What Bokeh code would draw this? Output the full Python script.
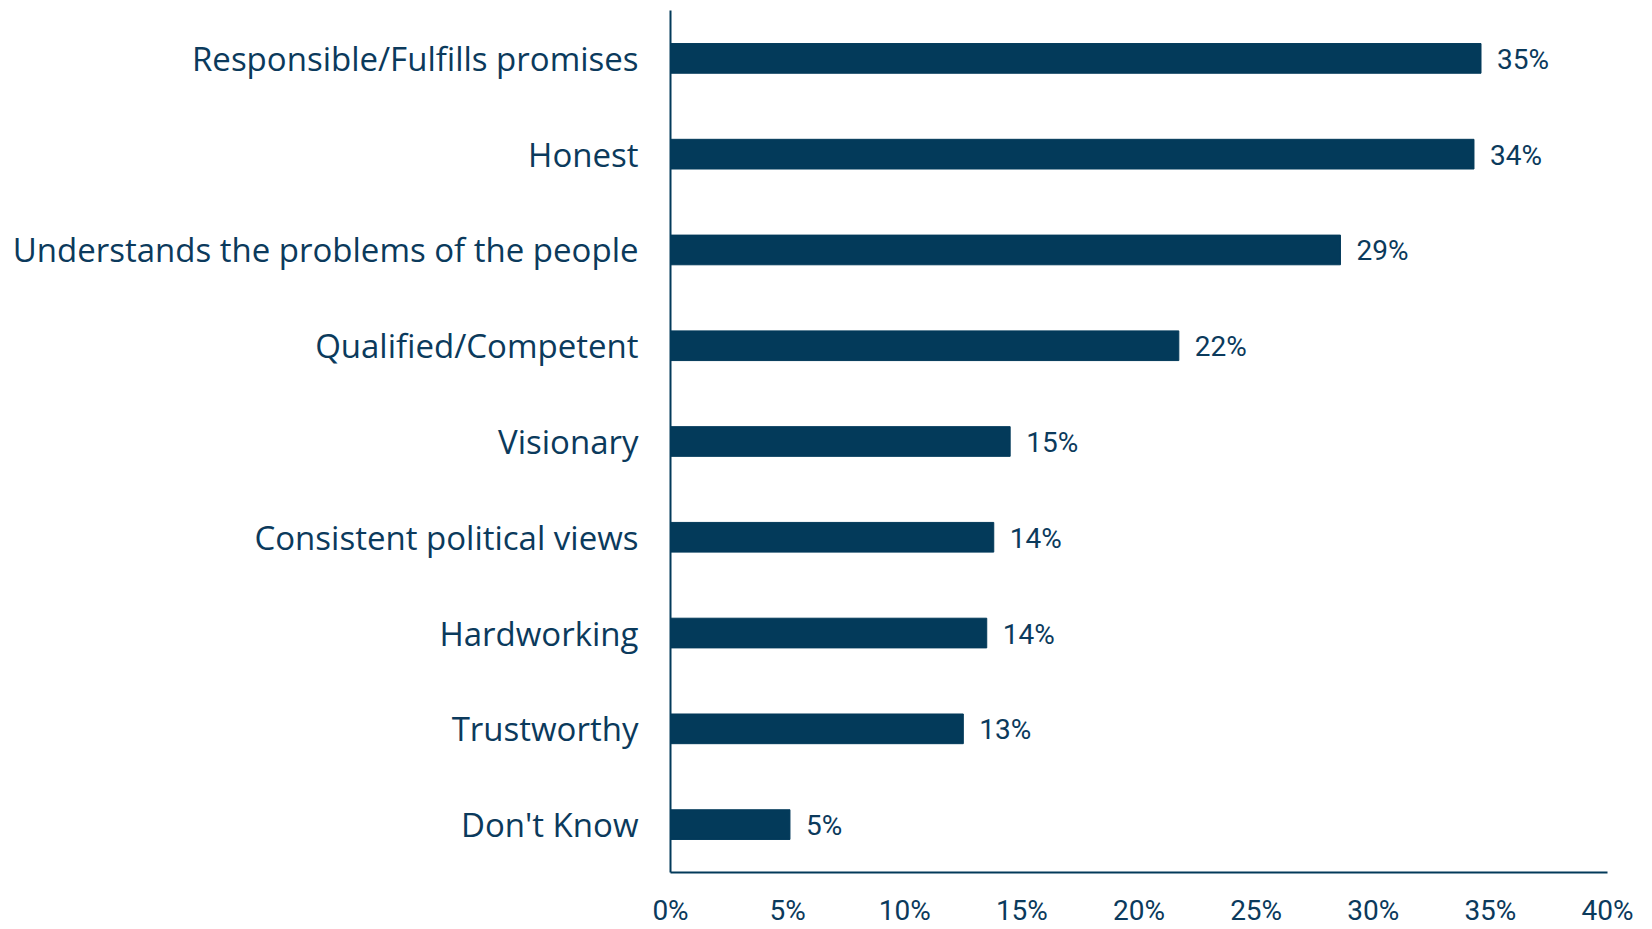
from bokeh.plotting import figure
from bokeh.models import ColumnDataSource, Range1d, FactorRange, FixedTicker, LabelSet
from bokeh.core.properties import value
from bokeh.embed import file_html
from bokeh.resources import INLINE

categories = ["Responsible/Fulfills promises", "Honest", "Understands the problems of the people",
              "Qualified/Competent", "Visionary", "Consistent political views", "Hardworking",
              "Trustworthy", "Don't Know"]
values = [34.6, 34.3, 28.6, 21.7, 14.5, 13.8, 13.5, 12.5, 5.1]
value_labels = ["35%", "34%", "29%", "22%", "15%", "14%", "14%", "13%", "5%"]
x_ticks = [0, 5, 10, 15, 20, 25, 30, 35, 40]

NAVY = "#033a5a"
TEXT = "#0b3a5c"
FONT = "Open Sans"
NUMFONT = "Roboto"

src = ColumnDataSource(dict(cat=categories, val=values, lab=value_labels))

p = figure(width=1644, height=929, output_backend="svg", toolbar_location=None,
           y_range=FactorRange(*reversed(categories), range_padding=0),
           x_range=Range1d(0, 40),
           min_border_left=670, min_border_right=37, min_border_top=10, min_border_bottom=40)

p.hbar(y="cat", right="val", left=0, height=0.31, source=src, color=NAVY)

labels = LabelSet(x="val", y="cat", text="lab", source=src, x_offset=16, y_offset=-1,
                  text_baseline="middle", text_font=value(NUMFONT), text_font_size="28px",
                  text_color=TEXT)
p.add_layout(labels)

p.outline_line_color = None
p.grid.grid_line_color = None
p.background_fill_color = "white"
p.border_fill_color = "white"

p.xaxis.ticker = FixedTicker(ticks=x_ticks)
p.xaxis.major_label_overrides = {t: f"{t}%" for t in x_ticks}
p.xaxis.major_tick_line_color = None
p.xaxis.minor_tick_line_color = None
p.xaxis.axis_line_color = NAVY
p.xaxis.axis_line_width = 2
p.xaxis.major_label_text_font = NUMFONT
p.xaxis.major_label_text_font_size = "28px"
p.xaxis.major_label_text_color = TEXT
p.xaxis.major_label_standoff = 15

p.yaxis.major_tick_line_color = None
p.yaxis.minor_tick_line_color = None
p.yaxis.axis_line_color = NAVY
p.yaxis.axis_line_width = 2
p.yaxis.major_label_text_font = FONT
p.yaxis.major_label_text_font_size = "33px"
p.yaxis.major_label_text_color = TEXT
p.yaxis.major_label_standoff = 26

open("out.html", "w").write(file_html(p, INLINE))
